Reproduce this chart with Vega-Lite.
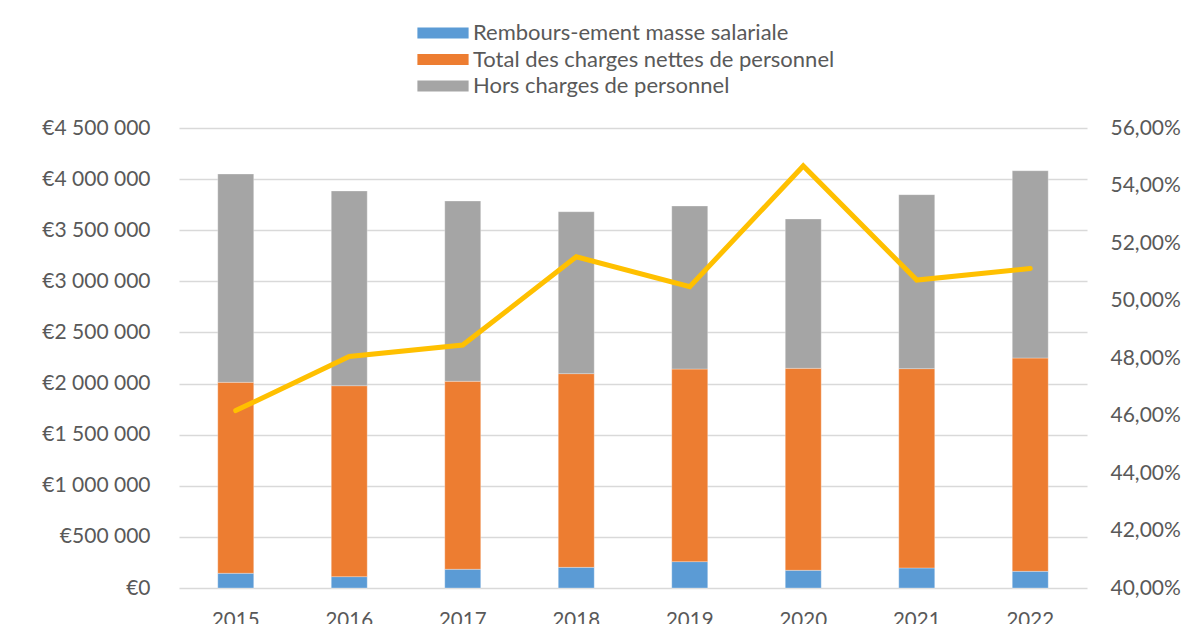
{
  "$schema": "https://vega.github.io/schema/vega-lite/v6.json",
  "autosize": "none",
  "width": 908,
  "height": 460,
  "padding": {"left": 179, "top": 128, "right": 111, "bottom": 36},
  "background": "white",
  "config": {
    "locale": {"number": {"decimal": ",", "thousands": " ", "grouping": [3], "currency": ["€", ""]}},
    "view": {"stroke": null},
    "font": "Lato",
    "axis": {"labelFont": "Lato", "labelColor": "#595959", "labelFontSize": 19, "ticks": false, "domain": false, "title": null}
  },
  "datasets": {
    "bars": [
      {"annee": "2015", "serie": "Rembours-ement masse salariale", "k": 1, "montant": 144000},
      {"annee": "2015", "serie": "Total des charges nettes de personnel", "k": 2, "montant": 1868000},
      {"annee": "2015", "serie": "Hors charges de personnel", "k": 3, "montant": 2038000},
      {"annee": "2016", "serie": "Rembours-ement masse salariale", "k": 1, "montant": 111000},
      {"annee": "2016", "serie": "Total des charges nettes de personnel", "k": 2, "montant": 1868000},
      {"annee": "2016", "serie": "Hors charges de personnel", "k": 3, "montant": 1905000},
      {"annee": "2017", "serie": "Rembours-ement masse salariale", "k": 1, "montant": 183000},
      {"annee": "2017", "serie": "Total des charges nettes de personnel", "k": 2, "montant": 1839000},
      {"annee": "2017", "serie": "Hors charges de personnel", "k": 3, "montant": 1764000},
      {"annee": "2018", "serie": "Rembours-ement masse salariale", "k": 1, "montant": 202000},
      {"annee": "2018", "serie": "Total des charges nettes de personnel", "k": 2, "montant": 1895000},
      {"annee": "2018", "serie": "Hors charges de personnel", "k": 3, "montant": 1584000},
      {"annee": "2019", "serie": "Rembours-ement masse salariale", "k": 1, "montant": 258000},
      {"annee": "2019", "serie": "Total des charges nettes de personnel", "k": 2, "montant": 1884000},
      {"annee": "2019", "serie": "Hors charges de personnel", "k": 3, "montant": 1595000},
      {"annee": "2020", "serie": "Rembours-ement masse salariale", "k": 1, "montant": 173000},
      {"annee": "2020", "serie": "Total des charges nettes de personnel", "k": 2, "montant": 1976000},
      {"annee": "2020", "serie": "Hors charges de personnel", "k": 3, "montant": 1461000},
      {"annee": "2021", "serie": "Rembours-ement masse salariale", "k": 1, "montant": 196000},
      {"annee": "2021", "serie": "Total des charges nettes de personnel", "k": 2, "montant": 1950000},
      {"annee": "2021", "serie": "Hors charges de personnel", "k": 3, "montant": 1702000},
      {"annee": "2022", "serie": "Rembours-ement masse salariale", "k": 1, "montant": 163000},
      {"annee": "2022", "serie": "Total des charges nettes de personnel", "k": 2, "montant": 2087000},
      {"annee": "2022", "serie": "Hors charges de personnel", "k": 3, "montant": 1832000}
    ],
    "ratio": [
      {"annee": "2015", "taux": 0.4617},
      {"annee": "2016", "taux": 0.4805},
      {"annee": "2017", "taux": 0.4845},
      {"annee": "2018", "taux": 0.5152},
      {"annee": "2019", "taux": 0.5048},
      {"annee": "2020", "taux": 0.5468},
      {"annee": "2021", "taux": 0.5071},
      {"annee": "2022", "taux": 0.5111}
    ]
  },
  "encoding": {
    "x": {
      "field": "annee", "type": "nominal", "sort": null,
      "scale": {"paddingInner": 0.683, "paddingOuter": 0.3415},
      "axis": {"labelAngle": 0, "labelPadding": 22, "labelFontSize": 20.5, "grid": false}
    }
  },
  "layer": [
    {
      "data": {"name": "bars"},
      "mark": {"type": "bar", "stroke": "white", "strokeWidth": 0.5, "strokeOpacity": 0.6},
      "encoding": {
        "y": {
          "field": "montant", "type": "quantitative", "stack": "zero",
          "scale": {"domain": [0, 4500000], "nice": false},
          "axis": {
            "orient": "left", "format": "$,.0f",
            "values": [0, 500000, 1000000, 1500000, 2000000, 2500000, 3000000, 3500000, 4000000, 4500000],
            "grid": true, "gridColor": "#D9D9D9", "gridWidth": 1.3, "labelPadding": 29, "labelFontSize": 21
          }
        },
        "color": {
          "field": "serie", "type": "nominal",
          "scale": {
            "domain": ["Rembours-ement masse salariale", "Total des charges nettes de personnel", "Hors charges de personnel"],
            "range": ["#5B9BD5", "#ED7D31", "#A5A5A5"]
          },
          "legend": {
            "title": null, "orient": "none", "legendX": 253, "legendY": -106, "direction": "vertical",
            "symbolType": "M-3.2,-0.7H3.2V0.7H-3.2Z", "symbolSize": 256, "symbolStrokeWidth": 0,
            "labelFont": "Lato", "labelFontSize": 22, "labelColor": "#595959", "labelOffset": 19,
            "labelLimit": 0, "rowPadding": 4.5, "padding": 0
          }
        },
        "order": {"field": "k", "type": "quantitative"}
      }
    },
    {
      "data": {"name": "ratio"},
      "mark": {"type": "line", "color": "#FFC000", "strokeWidth": 5, "strokeCap": "round", "strokeJoin": "miter"},
      "encoding": {
        "y": {
          "field": "taux", "type": "quantitative",
          "scale": {"domain": [0.40, 0.56], "nice": false, "zero": false},
          "axis": {
            "orient": "right", "format": ".2%",
            "values": [0.40, 0.42, 0.44, 0.46, 0.48, 0.50, 0.52, 0.54, 0.56],
            "grid": false, "labelPadding": 23, "labelFontSize": 21
          }
        }
      }
    }
  ],
  "resolve": {"scale": {"y": "independent"}}
}
